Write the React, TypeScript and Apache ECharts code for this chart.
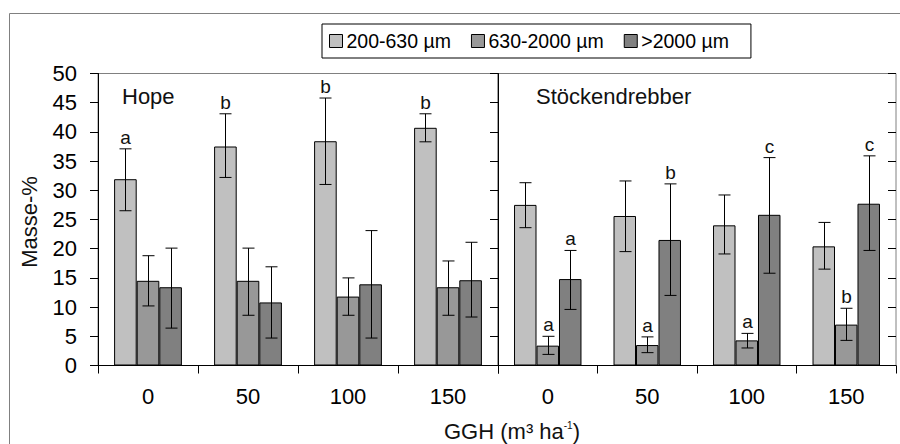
import React, { useEffect, useRef } from "react";
import * as echarts from "echarts";

const categories = ["0", "50", "100", "150"];
const seriesNames = ["200-630 µm", "630-2000 µm", ">2000 µm"];
const colors = ["#c0c0c0", "#989898", "#808080"];

// Hope
const hopeLight = [31.9, 37.5, 38.4, 40.7];
const hopeLightLow = [26.5, 32.2, 31.0, 38.3];
const hopeLightHigh = [37.1, 43.1, 45.8, 43.1];
const hopeMid = [14.5, 14.5, 11.8, 13.4];
const hopeMidLow = [10.2, 8.6, 8.6, 8.6];
const hopeMidHigh = [18.8, 20.1, 15.0, 17.9];
const hopeDark = [13.4, 10.8, 13.9, 14.6];
const hopeDarkLow = [6.4, 4.7, 4.7, 8.3];
const hopeDarkHigh = [20.1, 16.9, 23.1, 21.1];
const hopeLetters = [["a", "b", "b", "b"], ["", "", "", ""], ["", "", "", ""]];

// Stöckendrebber
const stLight = [27.5, 25.6, 24.0, 20.4];
const stLightLow = [23.6, 19.5, 19.1, 16.5];
const stLightHigh = [31.3, 31.6, 29.2, 24.5];
const stMid = [3.4, 3.5, 4.3, 7.0];
const stMidLow = [1.9, 2.2, 3.0, 4.3];
const stMidHigh = [5.0, 4.9, 5.5, 9.8];
const stDark = [14.8, 21.5, 25.8, 27.7];
const stDarkLow = [9.6, 12.0, 15.8, 19.7];
const stDarkHigh = [19.7, 31.1, 35.6, 35.9];
const stLetters = [["", "", "", ""], ["a", "a", "a", "b"], ["a", "b", "c", "c"]];

const yTicks = { min: 0, max: 50, interval: 5 };

const FONT = "'Liberation Sans', Arial, sans-serif";
const BAR_FRAC = 0.226;

function errData(lows: number[][], highs: number[][]) {
  const out: number[][] = [];
  for (let b = 0; b < 3; b++) {
    for (let c = 0; c < categories.length; c++) {
      out.push([c, lows[b][c], highs[b][c], b]);
    }
  }
  return out;
}

function makeRender(letters: string[][]) {
  return (params: any, api: any) => {
    const cat = api.value(0);
    const lo = api.value(1);
    const hi = api.value(2);
    const bi = api.value(3);
    const bw = api.size([1, 0])[0] * BAR_FRAC;
    const cx = Math.round(api.coord([cat, 0])[0] + (bi - 1) * bw) + 0.5;
    const yLo = api.coord([cat, lo])[1];
    const yHi = api.coord([cat, hi])[1];
    const half = 6;
    const st = { stroke: "#000", lineWidth: 1 };
    const children: any[] = [
      { type: "line", shape: { x1: cx, y1: yLo, x2: cx, y2: yHi }, style: st },
      { type: "line", shape: { x1: cx - half, y1: yLo, x2: cx + half, y2: yLo }, style: st },
      { type: "line", shape: { x1: cx - half, y1: yHi, x2: cx + half, y2: yHi }, style: st },
    ];
    const letter = letters[bi][cat];
    if (letter) {
      children.push({
        type: "text",
        style: {
          text: letter,
          x: cx,
          y: yHi - 2,
          align: "center",
          verticalAlign: "bottom",
          fontSize: 19,
          fontFamily: FONT,
          fill: "#111",
        },
      });
    }
    return { type: "group", children };
  };
}

export default function App() {
  const ref = useRef<HTMLDivElement>(null);
  useEffect(() => {
    document.body.style.margin = "0";
    if (!ref.current) return;
    const chart = echarts.init(ref.current, undefined, { renderer: "svg" });

    const gridTop = 73.5;
    const gridHeight = 292;

    const xAxisBase = (gridIndex: number) => ({
      type: "category",
      gridIndex,
      data: categories,
      axisLine: { lineStyle: { color: "#000", width: 1 } },
      axisTick: { show: true, length: 8, inside: false, lineStyle: { color: "#000" } },
      axisLabel: { color: "#000", fontSize: 22, fontFamily: FONT, margin: 20 },
      splitLine: { show: false },
    });

    const yAxisMain = (gridIndex: number, showLabels: boolean) => ({
      type: "value",
      gridIndex,
      min: yTicks.min,
      max: yTicks.max,
      interval: yTicks.interval,
      axisLine: { show: true, lineStyle: { color: "#000", width: 1 } },
      axisTick: { show: true, length: 8, inside: false, lineStyle: { color: "#000" } },
      axisLabel: { show: showLabels, color: "#000", fontSize: 22, fontFamily: FONT, margin: 21 },
      splitLine: { show: false },
    });
    const yAxisInner = (gridIndex: number) => ({
      type: "value",
      gridIndex,
      min: yTicks.min,
      max: yTicks.max,
      interval: yTicks.interval,
      axisLine: { show: false },
      axisTick: { show: true, length: 8, inside: true, lineStyle: { color: "#000" } },
      axisLabel: { show: false },
      splitLine: { show: false },
    });

    const barSeries = (vals: number[], idx: number, xi: number, yi: number) => ({
      type: "bar",
      name: seriesNames[idx],
      xAxisIndex: xi,
      yAxisIndex: yi,
      data: vals,
      barWidth: BAR_FRAC * 100 + "%",
      barGap: "0%",
      itemStyle: { color: colors[idx], borderColor: "#000", borderWidth: 1 },
      emphasis: { disabled: true },
    });

    chart.setOption({
      animation: false,
      textStyle: { fontFamily: FONT },
      legend: {
        data: seriesNames,
        left: 322,
        top: 24,
        orient: "horizontal",
        icon: "rect",
        itemWidth: 13,
        itemHeight: 13,
        itemGap: 20,
        padding: [7, 22, 7, 7],
        borderColor: "#000",
        borderWidth: 1,
        backgroundColor: "#fff",
        selectedMode: false,
        textStyle: { fontSize: 19.5, color: "#000", fontFamily: FONT, padding: [0, 0, 0, -1] },
        itemStyle: { borderColor: "#000", borderWidth: 1 },
      },
      grid: [
        {
          left: 98,
          top: gridTop,
          width: 400,
          height: gridHeight,
          show: true,
          borderColor: "#808080",
          borderWidth: 1,
          backgroundColor: "transparent",
        },
        {
          left: 498,
          top: gridTop,
          width: 398,
          height: gridHeight,
          show: true,
          borderColor: "#808080",
          borderWidth: 1,
          backgroundColor: "transparent",
        },
      ],
      xAxis: [xAxisBase(0), xAxisBase(1)],
      yAxis: [yAxisMain(0, true), yAxisInner(0), yAxisMain(1, false), yAxisInner(1)],
      graphic: [
        {
          type: "rect",
          shape: { x: 9.5, y: 13.5, width: 1000, height: 1000 },
          style: { fill: "none", stroke: "#808080", lineWidth: 1 },
          z: -10,
          silent: true,
        },
        {
          type: "text",
          x: 122,
          y: 96,
          style: { text: "Hope", fontSize: 22, fontFamily: FONT, fill: "#111", verticalAlign: "middle" },
        },
        {
          type: "text",
          x: 536,
          y: 96,
          style: { text: "Stöckendrebber", fontSize: 22, fontFamily: FONT, fill: "#111", verticalAlign: "middle" },
        },
        {
          type: "text",
          x: 29,
          y: 222,
          rotation: Math.PI / 2,
          style: { text: "Masse-%", fontSize: 22, fontFamily: FONT, fill: "#111", align: "center", verticalAlign: "middle" },
        },
        {
          type: "text",
          x: 512,
          y: 431,
          style: {
            text: "GGH (m³ ha{sup|-1})",
            fontSize: 22,
            fontFamily: FONT,
            fill: "#111",
            align: "center",
            verticalAlign: "middle",
            rich: {
              sup: { fontSize: 10, fontFamily: FONT, fill: "#111", verticalAlign: "top", padding: [0, 0, 10, 0] },
            },
          },
        },
      ],
      series: [
        barSeries(hopeLight, 0, 0, 0),
        barSeries(hopeMid, 1, 0, 0),
        barSeries(hopeDark, 2, 0, 0),
        barSeries(stLight, 0, 1, 2),
        barSeries(stMid, 1, 1, 2),
        barSeries(stDark, 2, 1, 2),
        {
          type: "custom",
          name: "errHope",
          xAxisIndex: 0,
          yAxisIndex: 0,
          data: errData([hopeLightLow, hopeMidLow, hopeDarkLow], [hopeLightHigh, hopeMidHigh, hopeDarkHigh]),
          renderItem: makeRender(hopeLetters),
          encode: { x: 0, y: [1, 2] },
          z: 5,
          clip: false,
          silent: true,
        },
        {
          type: "custom",
          name: "errSt",
          xAxisIndex: 1,
          yAxisIndex: 2,
          data: errData([stLightLow, stMidLow, stDarkLow], [stLightHigh, stMidHigh, stDarkHigh]),
          renderItem: makeRender(stLetters),
          encode: { x: 0, y: [1, 2] },
          z: 5,
          clip: false,
          silent: true,
        },
      ],
    });
    return () => chart.dispose();
  }, []);
  return <div ref={ref} style={{ width: 900, height: 444 }} />;
}
